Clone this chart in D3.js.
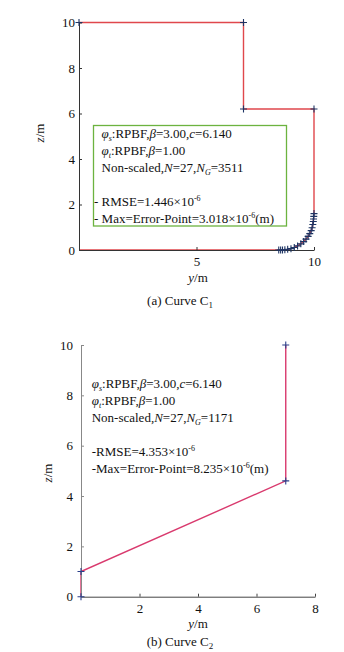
<!DOCTYPE html>
<html>
<head>
<meta charset="utf-8">
<script src="https://cdn.jsdelivr.net/npm/d3@7"></script>
<style>
  body { margin: 0; background: #fff; }
  svg { display: block; font-family: "Liberation Serif", "Times New Roman", serif; }
</style>
</head>
<body>
<div id="chart"></div>
<script>
// ---- data ----
// curve C1: nodes (y, z) along the boundary
const curve1Nodes = [
    [0, 10], [7, 10], [7, 6.2], [10, 6.2],
    [10.00, 1.60], [9.99, 1.48], [9.98, 1.36], [9.97, 1.25], [9.95, 1.12],
    [9.92, 0.98], [9.88, 0.85], [9.82, 0.72], [9.75, 0.60], [9.66, 0.48],
    [9.56, 0.37], [9.44, 0.27], [9.30, 0.18], [9.16, 0.11], [9.02, 0.06],
    [8.88, 0.03], [8.76, 0.01], [8.66, 0.00], [8.58, 0.00], [8.50, 0.00],
    [0, 0]
];
const curve1XTicks = [5, 10];
const curve1ZTicks = [0, 2, 4, 6, 8, 10];

// curve C2
const curve2Nodes = [[0, 0], [0, 1.0], [7, 4.6], [7, 10]];
const curve2XTicks = [2, 4, 6, 8];
const curve2ZTicks = [0, 2, 4, 6, 8, 10];

// info text (segments: text, kind)
const info1 = [
    [["φ", "i"], ["s", "sub"], [":RPBF,", ""], ["β", "i"], ["=3.00,", ""], ["c", "i"], ["=6.140", ""]],
    [["φ", "i"], ["t", "sub"], [":RPBF,", ""], ["β", "i"], ["=1.00", ""]],
    [["Non-scaled,", ""], ["N", "i"], ["=27,", ""], ["N", "i"], ["G", "sub"], ["=3511", ""]],
    [],
    [["- RMSE=1.446×10", ""], ["-6", "sup"]],
    [["- Max=Error-Point=3.018×10", ""], ["-6", "sup"], ["(m)", ""]]
];
const info2 = [
    [["φ", "i"], ["s", "sub"], [":RPBF,", ""], ["β", "i"], ["=3.00,", ""], ["c", "i"], ["=6.140", ""]],
    [["φ", "i"], ["t", "sub"], [":RPBF,", ""], ["β", "i"], ["=1.00", ""]],
    [["Non-scaled,", ""], ["N", "i"], ["=27,", ""], ["N", "i"], ["G", "sub"], ["=1171", ""]],
    [],
    [["-RMSE=4.353×10", ""], ["-6", "sup"]],
    [["-Max=Error-Point=8.235×10", ""], ["-6", "sup"], ["(m)", ""]]
];

const width = 344, height = 652;

const svg = d3.select('#chart').append('svg')
    .attr('width', width)
    .attr('height', height);

svg.append('rect').attr('width', width).attr('height', height).attr('fill', '#fff');

function plusMarks(g, pts, x, y, color) {
    g.selectAll('path.mk')
        .data(pts)
        .join('path')
            .attr('class', 'mk')
            .attr('d', d => `M${x(d[0]) - 3.5},${y(d[1])}h7M${x(d[0])},${y(d[1]) - 3.5}v7`)
            .attr('stroke', color)
            .attr('stroke-width', 1.1)
            .attr('fill', 'none');
}

function writeLines(g, lines, x0, y0, lh) {
    lines.forEach((segs, i) => {
        if (!segs.length) return;
        const t = g.append('text')
            .attr('x', x0)
            .attr('y', y0 + i * lh)
            .attr('font-size', 13)
            .attr('fill', '#111');
        segs.forEach(([s, kind]) => {
            const ts = t.append('tspan').text(s);
            if (kind === 'i') ts.attr('font-style', 'italic');
            if (kind === 'sub') ts.attr('font-style', 'italic').attr('font-size', 8).attr('baseline-shift', '-3');
            if (kind === 'sup') ts.attr('font-size', 8).attr('baseline-shift', '5');
        });
    });
}

function drawAxes(g, x, y, xTicks, zTicks, yPad, axisColor, yAxisColor) {
    const gx = g.append('g')
        .attr('transform', `translate(0,${y(0)})`)
        .call(d3.axisBottom(x).tickValues(xTicks).tickSize(-3).tickSizeOuter(0).tickPadding(7));
    const gy = g.append('g')
        .attr('transform', `translate(${x(0)},0)`)
        .call(d3.axisLeft(y).tickValues(zTicks).tickSize(-3).tickSizeOuter(0).tickPadding(yPad));
    [[gx, axisColor], [gy, yAxisColor]].forEach(([a, c]) => {
        a.select('.domain').attr('stroke', c);
        a.selectAll('.tick line').attr('stroke', c);
        a.selectAll('.tick text')
            .attr('font-family', '"Liberation Serif", serif')
            .attr('font-size', 13)
            .attr('fill', '#111');
    });
}

function axisLabels(g, xLabelPos, zLabelPos, caption, captionPos, sub) {
    const xl = g.append('text')
        .attr('x', xLabelPos[0]).attr('y', xLabelPos[1])
        .attr('text-anchor', 'middle').attr('font-size', 13).attr('fill', '#111');
    xl.append('tspan').attr('font-style', 'italic').text('y');
    xl.append('tspan').text('/m');

    const zl = g.append('text')
        .attr('transform', `translate(${zLabelPos[0]},${zLabelPos[1]}) rotate(-90)`)
        .attr('text-anchor', 'middle').attr('font-size', 13).attr('fill', '#111');
    zl.append('tspan').attr('font-style', 'italic').text('z');
    zl.append('tspan').text('/m');

    const cp = g.append('text')
        .attr('x', captionPos[0]).attr('y', captionPos[1])
        .attr('text-anchor', 'middle').attr('font-size', 13).attr('fill', '#111');
    cp.append('tspan').text(caption);
    cp.append('tspan').attr('font-size', 9).attr('baseline-shift', '-3').text(sub);
}

// ---- (a) Curve C1 ----
const x1 = d3.scaleLinear().domain([0, 10]).range([79, 314]);
const y1 = d3.scaleLinear().domain([0, 10]).range([250, 22.5]);
const g1 = svg.append('g');

const line1 = d3.line().x(d => x1(d[0])).y(d => y1(d[1]));
g1.append('path')
    .datum(curve1Nodes)
    .attr('d', line1)
    .attr('fill', 'none')
    .attr('stroke', '#e0474c')
    .attr('stroke-width', 1.4);

drawAxes(g1, x1, y1, curve1XTicks, curve1ZTicks, 4, '#333', '#333');
plusMarks(g1, curve1Nodes.slice(0, -1), x1, y1, '#1e3564');

g1.append('rect')
    .attr('x', 93.5).attr('y', 125.5)
    .attr('width', 193).attr('height', 100.5)
    .attr('fill', '#fff')
    .attr('stroke', '#6cb33f')
    .attr('stroke-width', 1.3);
writeLines(g1, info1, 101.5, 138, 17);
g1.selectAll('text').filter((d, i, n) => n[i].textContent.startsWith('- ')).attr('x', 94);

axisLabels(g1, [198, 282], [44, 133], '(a) Curve C', [180, 305], '1');

// ---- (b) Curve C2 ----
const x2 = d3.scaleLinear().domain([0, 8]).range([81, 315]);
const y2 = d3.scaleLinear().domain([0, 10]).range([596.7, 345]);
const g2 = svg.append('g');

const line2 = d3.line().x(d => x2(d[0])).y(d => y2(d[1]));
g2.append('path')
    .datum(curve2Nodes)
    .attr('d', line2)
    .attr('fill', 'none')
    .attr('stroke', '#d93a6e')
    .attr('stroke-width', 1.4);

drawAxes(g2, x2, y2, curve2XTicks, curve2ZTicks, 8, '#444', '#888');
plusMarks(g2, curve2Nodes, x2, y2, '#2b3f8a');

writeLines(g2, info2, 91.7, 388, 17);

axisLabels(g2, [198, 628], [52, 473], '(b) Curve C', [180, 646], '2');
</script>
</body>
</html>
